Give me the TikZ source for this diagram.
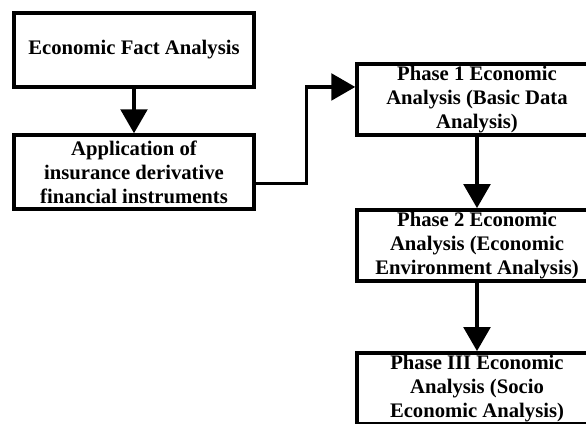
\documentclass[tikz,border=0pt]{standalone}
\usepackage{fontspec}
\setmainfont{Liberation Serif}
\usetikzlibrary{arrows.meta,positioning}

\begin{document}
\begin{tikzpicture}[x=0.75pt, y=-0.75pt,
  stagebox/.style={rectangle, draw=black, line width=2.6pt, fill=white,
    minimum width=180pt, minimum height=55.5pt, align=center, inner sep=0pt,
    font=\fontsize{15.5pt}{18pt}\selectfont\bfseries},
  phasebox/.style={stagebox, minimum height=53.5pt},
  flowarrow/.style={line width=2.6pt, -{Triangle[length=18pt, width=20pt]}}
]
\path[fill=white, use as bounding box] (0,0) rectangle (586,424);
\clip (0,0) rectangle (586,424);

% Left column
\node[stagebox] (fact) at (134,50) {Economic Fact Analysis};
\node[stagebox] (apply) at (134,172) {Application of\\insurance derivative\\financial instruments};
\draw[flowarrow] (fact) -- (apply);

% Right column: the three phases (cut by the page edge)
\node[phasebox] (phase1) at (477,99.5) {Phase 1 Economic\\Analysis (Basic Data\\Analysis)};
\node[phasebox] (phase2) at (477,245.5) {Phase 2 Economic\\Analysis (Economic\\Environment Analysis)};
\node[phasebox] (phase3) at (477,388.5) {Phase III Economic\\Analysis (Socio\\Economic Analysis)};
\draw[flowarrow] (phase1) -- (phase2);
\draw[flowarrow] (phase2) -- (phase3);

% Elbow link from the left column into phase 1
\draw[flowarrow] ([yshift=-8.6pt]apply.east) -- ++(51,0) |- ([yshift=9.4pt]phase1.west);

\end{tikzpicture}
\end{document}
